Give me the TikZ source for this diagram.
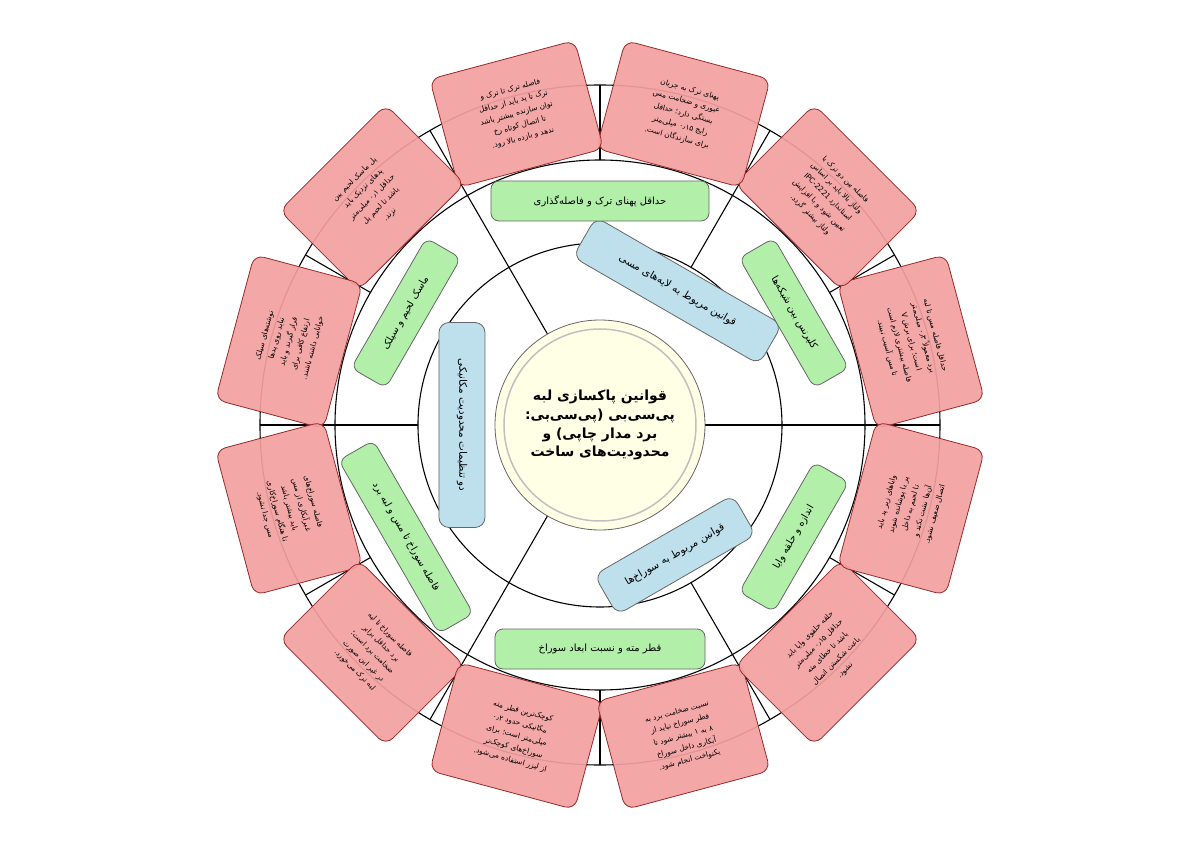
\documentclass[tikz,border=0pt]{standalone}
\usepackage{fontspec}
\newfontfamily\fa[Script=Arabic]{DejaVu Sans}
\TeXXeTstate=1
\newcommand\rl[1]{\beginR #1\endR}
\definecolor{rfill}{RGB}{242,160,160}
\definecolor{rdraw}{RGB}{150,40,40}
\definecolor{gfill}{RGB}{178,240,170}
\definecolor{bfill}{RGB}{190,224,236}
\definecolor{cfill}{RGB}{255,255,230}
\tikzset{
  ring/.style={draw=black,line width=1.1pt},
  redbox/.style={draw=rdraw,fill=rfill,fill opacity=0.92,text opacity=1,rounded corners=10bp,minimum width=150bp,minimum height=112bp,align=center,font=\fa\fontsize{7.5}{12.5}\selectfont,line width=0.8pt},
  greenbox/.style={draw=black!60,fill=gfill,rounded corners=8bp,minimum height=40bp,align=center,font=\fa\fontsize{10}{12}\selectfont,line width=0.8pt},
  bluebox/.style={draw=black!60,fill=bfill,rounded corners=10bp,minimum height=46bp,align=center,font=\fa\fontsize{10.5}{12}\selectfont,line width=0.8pt},
}
\begin{document}
\begin{tikzpicture}[x=1bp,y=1bp]
\useasboundingbox (-600,-424) rectangle (600,425);
% rings
\draw[ring] (0,0) circle (340bp);
\draw[ring] (0,0) circle (265bp);
\draw[ring] (0,0) circle (182bp);
\foreach \a in {0,30,...,330} \draw[ring] (\a:265bp) -- (\a:340bp);
\foreach \a in {60,180,300} \draw[ring] (\a:182bp) -- (\a:265bp);
\foreach \a in {0,120,240} \draw[ring] (\a:90bp) -- (\a:265bp);
% center
\node[circle,draw=black!60,fill=cfill,minimum size=210bp,line width=0.8pt] (c) at (0,0) {};
\node[circle,draw=black!25,line width=1.5pt,minimum size=192bp] (ci) at (0,0) {};
\node[font=\fa\bfseries\fontsize{14}{19}\selectfont,align=center] (ct) at (0,0)
 {\rl{قوانین پاکسازی لبه}\\ \rl{پی‌سی‌بی (پی‌سی‌بی:}\\ \rl{برد مدار چاپی) و}\\ \rl{محدودیت‌های ساخت}};
% blue
\node[bluebox,minimum width=215bp,rotate=-30] (b1) at (60:155bp) {\rl{قوانین مربوط به لایه‌های مسی}};
\node[bluebox,minimum width=205bp,rotate=-90] (b2) at (180:138bp) {\rl{دو تنظیمات محدودیت مکانیکی}};
\node[bluebox,minimum width=160bp,rotate=30] (b3) at (300:150bp) {\rl{قوانین مربوط به سوراخ‌ها}};
% green
\node[greenbox,minimum width=218bp] (g1) at (90:224bp) {\rl{حداقل پهنای ترک و فاصله‌گذاری}};
\node[greenbox,minimum width=150bp,rotate=-60] (g2) at (30:224bp) {\rl{کلیرنس بین شبکه‌ها}};
\node[greenbox,minimum width=150bp,rotate=60] (g3) at (150:224bp) {\rl{ماسک لحیم و سیلک}};
\node[greenbox,minimum width=200bp,rotate=-60] (g4) at (210:224bp) {\rl{فاصله سوراخ تا مس و لبه برد}};
\node[greenbox,minimum width=210bp] (g5) at (270:224bp) {\rl{قطر مته و نسبت ابعاد سوراخ}};
\node[greenbox,minimum width=150bp,rotate=60] (g6) at (330:224bp) {\rl{اندازه و حلقه وایا}};
% red
\node[redbox,rotate=-75] (r1) at (15:322bp) {\rl{حداقل فاصله مس تا لبه}\\ \rl{برد معمولاً ۰٫۳ میلی‌متر}\\ \rl{است؛ برای برش V}\\ \rl{فاصله بیشتری لازم است}\\ \rl{تا مس آسیب نبیند.}};
\node[redbox,rotate=-45] (r2) at (45:322bp) {\rl{فاصله بین دو ترک با}\\ \rl{ولتاژ بالا باید بر اساس}\\ \rl{استاندارد IPC-2221}\\ \rl{تعیین شود و با افزایش}\\ \rl{ولتاژ بیشتر گردد.}};
\node[redbox,rotate=-15] (r3) at (75:322bp) {\rl{پهنای ترک به جریان}\\ \rl{عبوری و ضخامت مس}\\ \rl{بستگی دارد؛ حداقل}\\ \rl{رایج ۰٫۱۵ میلی‌متر}\\ \rl{برای سازندگان است.}};
\node[redbox,rotate=15] (r4) at (105:322bp) {\rl{فاصله ترک تا ترک و}\\ \rl{ترک تا پد باید از حداقل}\\ \rl{توان سازنده بیشتر باشد}\\ \rl{تا اتصال کوتاه رخ}\\ \rl{ندهد و بازده بالا رود.}};
\node[redbox,rotate=45] (r5) at (135:322bp) {\rl{پل ماسک لحیم بین}\\ \rl{پدهای نزدیک باید}\\ \rl{حداقل ۰٫۱ میلی‌متر}\\ \rl{باشد تا لحیم پل}\\ \rl{نزند.}};
\node[redbox,rotate=75] (r6) at (165:322bp) {\rl{نوشته‌های سیلک}\\ \rl{نباید روی پدها}\\ \rl{قرار گیرند و باید}\\ \rl{ارتفاع کافی برای}\\ \rl{خوانایی داشته باشند.}};
\node[redbox,rotate=-75] (r7) at (195:322bp) {\rl{فاصله سوراخ‌های}\\ \rl{غیرآبکاری از مس}\\ \rl{باید بیشتر باشد}\\ \rl{تا هنگام سوراخ‌کاری}\\ \rl{مس جدا نشود.}};
\node[redbox,rotate=-45] (r8) at (225:322bp) {\rl{فاصله سوراخ تا لبه}\\ \rl{برد حداقل برابر}\\ \rl{ضخامت برد است؛}\\ \rl{در غیر این صورت}\\ \rl{لبه ترک می‌خورد.}};
\node[redbox,rotate=-15] (r9) at (255:322bp) {\rl{کوچک‌ترین قطر مته}\\ \rl{مکانیکی حدود ۰٫۲}\\ \rl{میلی‌متر است؛ برای}\\ \rl{سوراخ‌های کوچک‌تر}\\ \rl{از لیزر استفاده می‌شود.}};
\node[redbox,rotate=15] (r10) at (285:322bp) {\rl{نسبت ضخامت برد به}\\ \rl{قطر سوراخ نباید از}\\ \rl{۸ به ۱ بیشتر شود تا}\\ \rl{آبکاری داخل سوراخ}\\ \rl{یکنواخت انجام شود.}};
\node[redbox,rotate=45] (r11) at (315:322bp) {\rl{حلقه حلقوی وایا باید}\\ \rl{حداقل ۰٫۱۵ میلی‌متر}\\ \rl{باشد تا خطای مته}\\ \rl{باعث شکستن اتصال}\\ \rl{نشود.}};
\node[redbox,rotate=75] (r12) at (345:322bp) {\rl{وایاهای زیر پد باید}\\ \rl{پر یا پوشانده شوند}\\ \rl{تا لحیم به داخل}\\ \rl{آن‌ها نشت نکند و}\\ \rl{اتصال ضعیف نشود.}};
\end{tikzpicture}
\end{document}
